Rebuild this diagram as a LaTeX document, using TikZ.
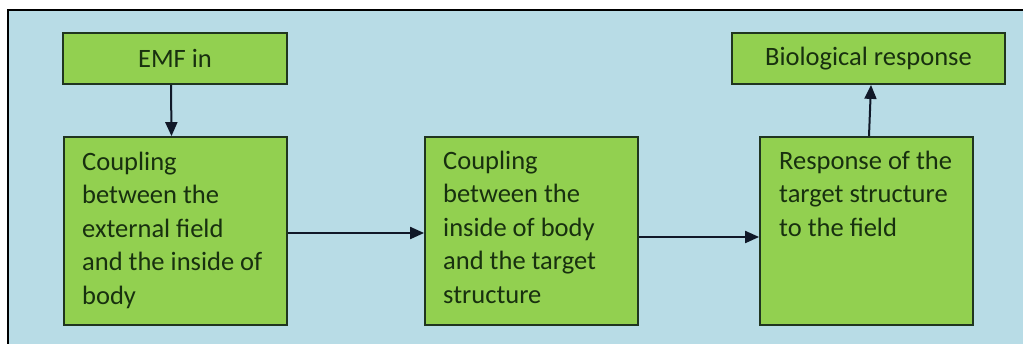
\documentclass[tikz,border=0pt]{standalone}
\usepackage{fontspec}
\setmainfont{Carlito}
\usetikzlibrary{arrows.meta}
\definecolor{panelblue}{HTML}{B8DCE6}
\definecolor{boxgreen}{HTML}{92D050}
\definecolor{boxedge}{HTML}{203520}
\definecolor{inkgreen}{HTML}{18300F}
\definecolor{arrowink}{HTML}{101828}
\tikzset{
  stage/.style={draw=boxedge, fill=boxgreen, line width=1.8pt, inner sep=0pt},
  tag/.style={stage, font=\fontsize{26.5}{30}\selectfont, text=inkgreen},
  body/.style={inner sep=0pt, anchor=base west, text=inkgreen,
    font=\fontsize{26.5}{33.5}\selectfont},
  flow/.style={draw=arrowink, line width=2pt, -{Triangle[length=14pt,width=12pt]}}
}
\newcommand{\bodytext}[1]{\parbox[t]{200pt}{\raggedright #1}}
\begin{document}
\begin{tikzpicture}[x=1pt,y=-1pt]
  \useasboundingbox (0,0) rectangle (1023,343);
  \fill[white] (0,0) rectangle (1023,343);
  % panel
  \fill[panelblue] (8,10) rectangle (1024,344);
  \draw[line width=1.8pt, black] (8,344) -- (8,10) -- (1024,10);

  % boxes
  \node[tag, minimum width=224pt, minimum height=51pt] (emf) at (175,58.5) {EMF in};
  \node[tag, minimum width=273pt, minimum height=51pt] (bio) at (868.5,58.5) {Biological response};
  \node[stage, minimum width=223pt, minimum height=188pt] (b1) at (175.5,231) {};
  \node[stage, minimum width=213pt, minimum height=188pt] (b2) at (531.5,231) {};
  \node[stage, minimum width=213pt, minimum height=188pt] (b3) at (866.5,231) {};

  % texts inside the boxes
  \node[body] (t1) at (82,170) {\bodytext{Coupling\\between the\\external field\\and the inside of\\body}};
  \node[body] (t2) at (443,169) {\bodytext{Coupling\\between the\\inside of body\\and the target\\structure}};
  \node[body] (t3) at (779,169) {\bodytext{Response of the\\target structure\\to the field}};

  % connectors
  \draw[flow] ([xshift=-4pt]emf.south) -- ([xshift=-4pt]b1.north);
  \draw[flow] ([yshift=-2pt]b1.east) -- ([yshift=-2pt]b2.west);
  \draw[flow] ([yshift=-6pt]b2.east) -- ([yshift=-6pt]b3.west);
  \draw[flow] ([xshift=2.5pt]b3.north) -- ([xshift=2.5pt]bio.south);
\end{tikzpicture}
\end{document}
